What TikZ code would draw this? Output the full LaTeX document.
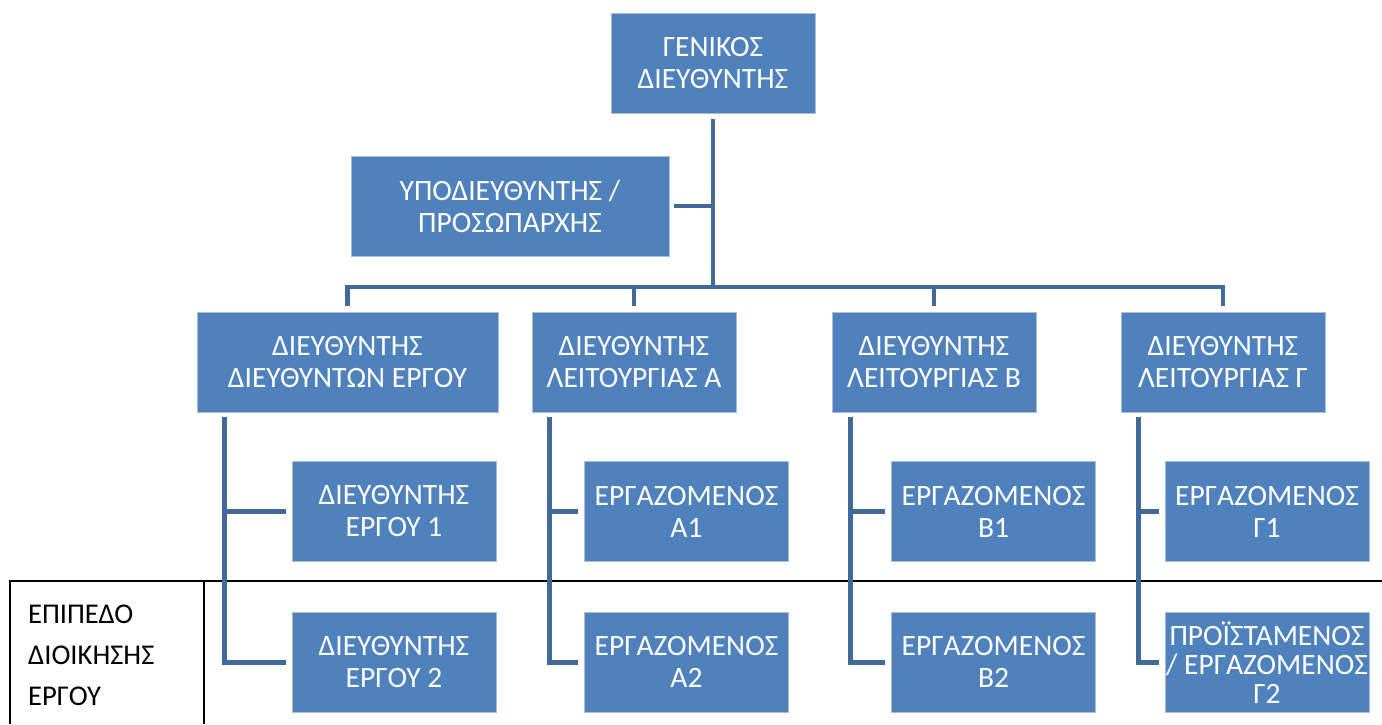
\documentclass[tikz,border=0pt]{standalone}
\usepackage{fontspec}
\setmainfont{Carlito}
\usepackage{xcolor}
\usepackage{tikz}
\usetikzlibrary{positioning}

\definecolor{boxblue}{HTML}{4F81BD}
\definecolor{boxedge}{HTML}{A7BFDE}
\definecolor{linkblue}{HTML}{41699A}

\begin{document}
\begin{tikzpicture}[x=1pt, y=-1pt,
    unit/.style={draw=boxedge, line width=0.8pt, fill=boxblue, text=white, align=center,
        font=\fontsize{29.5}{32}\selectfont, minimum height=100pt, inner sep=0pt},
    staff/.style={unit, minimum width=204pt},
    link/.style={draw=linkblue, line width=4.5pt},
    rule/.style={draw=black, line width=1.6pt},
    level/.style={font=\fontsize{28.6}{41}\selectfont, align=left, inner sep=0pt}]
    \useasboundingbox (0,0) rectangle (1382,724);

    % Table
    \draw[rule] (10,724) -- (10,581) -- (1382,581);
    \draw[rule] (204,581) -- (204,724);
    \node[level, anchor=west] (lvl) at (28,655) {ΕΠΙΠΕΔΟ\\ΔΙΟΙΚΗΣΗΣ\\ΕΡΓΟΥ};

    % Nodes
    \node[unit, minimum width=204pt] (gm) at (713,63) {ΓΕΝΙΚΟΣ\\ΔΙΕΥΘΥΝΤΗΣ};
    \node[unit, minimum width=318pt] (sub) at (510,206) {ΥΠΟΔΙΕΥΘΥΝΤΗΣ /\\ΠΡΟΣΩΠΑΡΧΗΣ};
    \node[unit, minimum width=301pt] (dA) at (347.5,362) {ΔΙΕΥΘΥΝΤΗΣ\\ΔΙΕΥΘΥΝΤΩΝ ΕΡΓΟΥ};
    \node[unit, minimum width=204pt] (dB) at (634,362) {ΔΙΕΥΘΥΝΤΗΣ\\ΛΕΙΤΟΥΡΓΙΑΣ Α};
    \node[unit, minimum width=204pt] (dC) at (934,362) {ΔΙΕΥΘΥΝΤΗΣ\\ΛΕΙΤΟΥΡΓΙΑΣ Β};
    \node[unit, minimum width=204pt] (dD) at (1223,362) {ΔΙΕΥΘΥΝΤΗΣ\\ΛΕΙΤΟΥΡΓΙΑΣ Γ};

    \node[staff] (pA1) at (394,511.5) {ΔΙΕΥΘΥΝΤΗΣ\\ΕΡΓΟΥ 1};
    \node[staff, below=50pt of pA1] (pA2) {ΔΙΕΥΘΥΝΤΗΣ\\ΕΡΓΟΥ 2};
    \node[staff] (pB1) at (686.5,511.5) {ΕΡΓΑΖΟΜΕΝΟΣ\\Α1};
    \node[staff, below=50pt of pB1] (pB2) {ΕΡΓΑΖΟΜΕΝΟΣ\\Α2};
    \node[staff] (pC1) at (993.5,511.5) {ΕΡΓΑΖΟΜΕΝΟΣ\\Β1};
    \node[staff, below=50pt of pC1] (pC2) {ΕΡΓΑΖΟΜΕΝΟΣ\\Β2};
    \node[staff] (pD1) at (1267,511.5) {ΕΡΓΑΖΟΜΕΝΟΣ\\Γ1};
    \node[staff, below=50pt of pD1, font=\fontsize{29.5}{29}\selectfont] (pD2) {ΠΡΟΪΣΤΑΜΕΝΟΣ\\/ ΕΡΓΑΖΟΜΕΝΟΣ\\Γ2};

    % Lines
    \coordinate (bar) at (713,287);
    \draw[link, shorten <=6pt] (gm) -- (gm |- bar);
    \draw[link, shorten >=5pt] (gm |- sub) -- (sub);
    \foreach \d in {dA,dB,dC,dD}
        \draw[link, shorten >=6pt] (bar) -| (\d);

    \foreach \d/\s/\p in {dA/28/pA, dB/18/pB, dC/19/pC, dD/18/pD} {
        \draw[link, shorten <=5pt, shorten >=6pt] ([xshift=\s pt]\d.south west) |- (\p1);
        \draw[link, shorten <=5pt, shorten >=6pt] ([xshift=\s pt]\d.south west) |- (\p2);
    }
\end{tikzpicture}
\end{document}
